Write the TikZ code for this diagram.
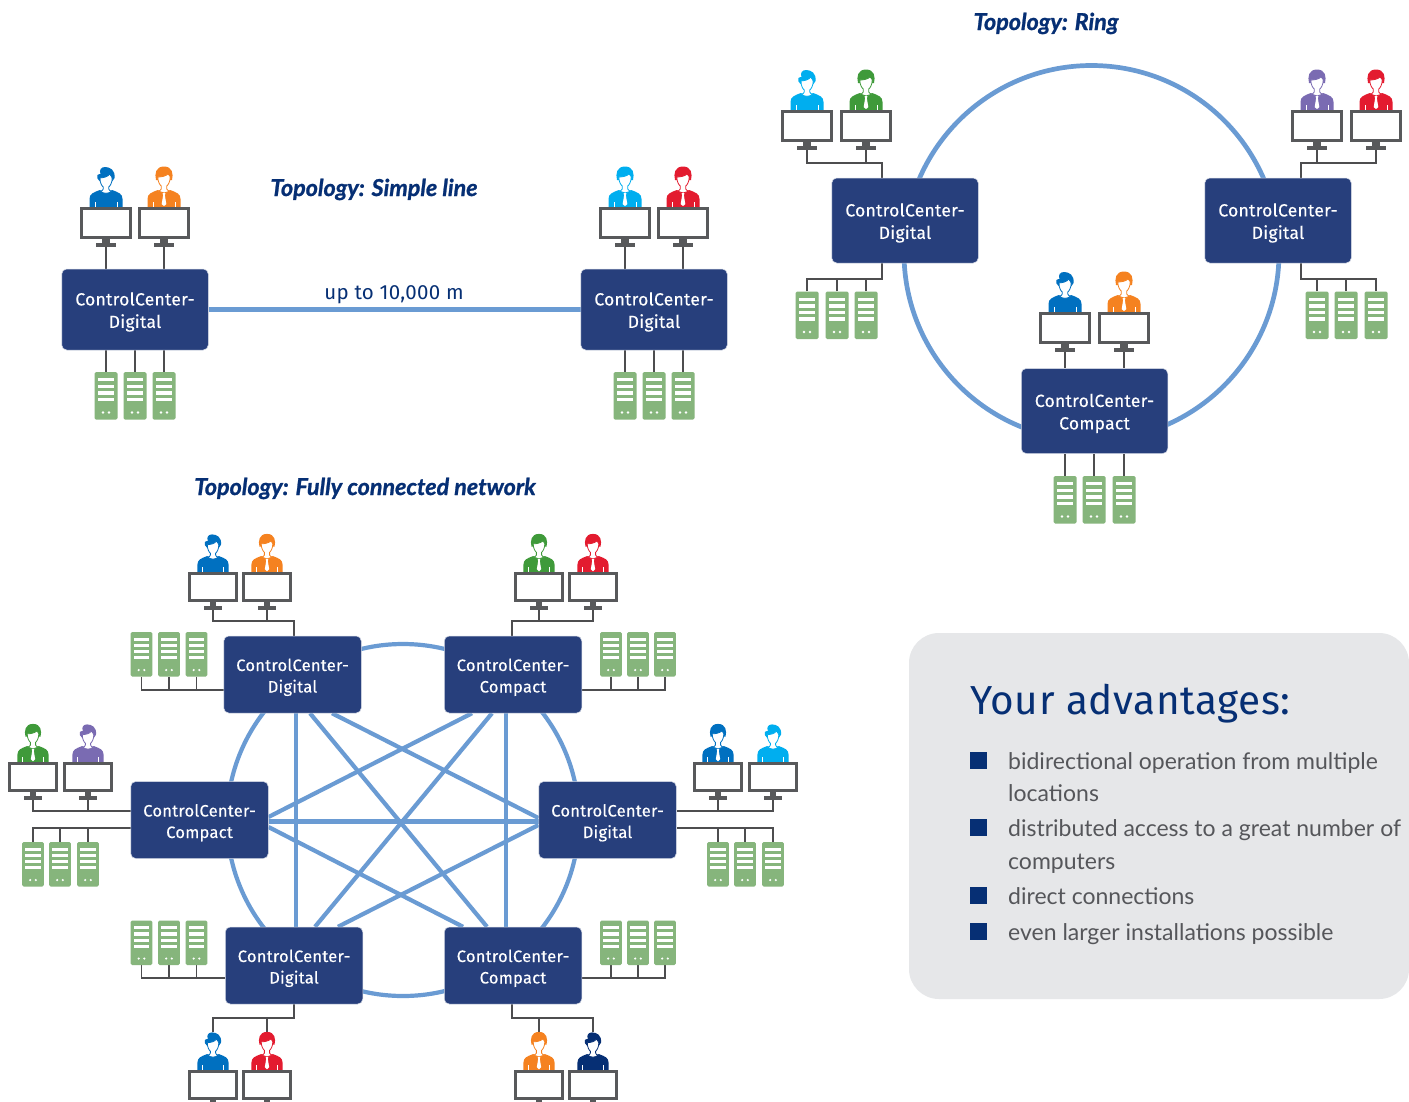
\documentclass[tikz,border=0pt]{standalone}
\usepackage{fontspec}
\setmainfont{Lato}
\newfontfamily\boxfont[LetterSpace=1.5,FakeBold=0.3]{Fira Sans}
\newfontfamily\headfont[LetterSpace=1.5]{Fira Sans}
\newfontfamily\titlefont[BoldItalicFeatures={FakeBold=1.0}]{Lato}
\usetikzlibrary{calc,backgrounds}
\definecolor{navyb}{HTML}{273F7C}
\definecolor{headc}{HTML}{062F74}
\definecolor{linkc}{HTML}{6A9BD3}
\definecolor{wirec}{HTML}{4D4D4F}
\definecolor{srvc}{HTML}{86B57C}
\definecolor{monc}{HTML}{58595B}
\definecolor{panelc}{HTML}{E6E7E9}
\definecolor{textc}{HTML}{55565A}
\definecolor{pblue}{HTML}{0070C0}
\definecolor{porange}{HTML}{F58220}
\definecolor{pcyan}{HTML}{00AEEF}
\definecolor{pred}{HTML}{E31B2F}
\definecolor{pgreen}{HTML}{3F9A3A}
\definecolor{ppurple}{HTML}{7A6BB2}
\definecolor{pnavy}{HTML}{062F74}
\newcommand{\ccl}[1]{\rule{0pt}{18pt}ControlCenter-\\#1}
\tikzset{
  x=1pt,y=-1pt,
  ccbox/.style={draw=white!80!navyb,line width=.5pt,fill=navyb,rounded corners=5pt,text=white,align=center,inner sep=0pt},
  ccbig/.style={ccbox,minimum width=146.5pt,font=\boxfont\fontsize{17.5}{22.5}\selectfont},
  ccsmall/.style={ccbox,minimum width=137.5pt,minimum height=77pt,font=\boxfont\fontsize{16.5}{21.5}\selectfont},
  link/.style={draw=linkc,line width=4.5pt},
  diag/.style={draw=linkc,line width=4.2pt},
  wire/.style={draw=wirec,line width=1.2pt},
  loop/.style={circle,draw=linkc,inner sep=0pt},
  toptitle/.style={anchor=base,text=headc,font=\titlefont\bfseries\itshape\fontsize{23.3}{26}\selectfont},
  bullet/.style={fill=headc,inner sep=0pt,minimum size=17pt},
  adv/.style={anchor=base west,text=textc,inner sep=0pt,font=\fontsize{23}{28}\selectfont},
}
% person drawings, origin on top middle of the monitor
\newcommand{\bodyshape}[1]{%
  \fill[#1] (-16.5,0) -- (-16.5,-8) .. controls (-16.5,-13) and (-13,-14.5) .. (-6,-17)
     .. controls (-4,-14) and (4,-14) .. (6,-17)
     .. controls (13,-14.5) and (16.5,-13) .. (16.5,-8) -- (16.5,0) -- cycle;
  \draw[white,line width=.6pt] (-11,0) -- (-11,-5) (11,0) -- (11,-5);
}
\newcommand{\personcasual}[1]{%
  \bodyshape{#1}
  \fill[#1] (-5.5,-33) .. controls (-9,-33) and (-9.5,-31) .. (-8.5,-28.5) -- (-6.5,-26)
     -- (6.5,-26) -- (8.5,-29)
     .. controls (9.5,-37) and (4,-40) .. (-1,-40) .. controls (-5,-40) and (-7,-37) .. (-5.5,-33) -- cycle;
  \draw[#1,fill=white,line width=.8pt] (-6,-29) .. controls (-2,-29.5) and (2,-30) .. (3.5,-33)
     .. controls (4.5,-31.5) and (5.8,-30.5) .. (6.2,-29)
     .. controls (6.2,-24) and (4,-21) .. (2.8,-20) -- (2.8,-18) .. controls (3,-16.5) and (4.5,-15.5) .. (6,-16)
     .. controls (3,-13) and (-3,-13) .. (-6,-16)
     .. controls (-4.5,-15.5) and (-3,-16.5) .. (-2.8,-18) -- (-2.8,-20) .. controls (-4,-21) and (-6.2,-24) .. (-6,-29) -- cycle;
}
\newcommand{\personsuit}[1]{%
  \bodyshape{#1}
  \fill[#1] (-8,-27) .. controls (-9.5,-33) and (-8.5,-40.5) .. (0,-40.5)
     .. controls (8.5,-40.5) and (9.5,-33) .. (8,-27) -- cycle;
  \draw[#1,fill=white,line width=.8pt] (-6.2,-30) .. controls (-2,-30) and (2,-31) .. (4,-33)
     .. controls (5,-32) and (6.2,-31) .. (6.2,-30)
     .. controls (6.2,-25) and (4,-22) .. (2.8,-21) -- (2.8,-18) .. controls (3,-16.5) and (5,-16) .. (6,-16)
     -- (0,-14) -- (-6,-16)
     .. controls (-5,-16) and (-3,-16.5) .. (-2.8,-18) -- (-2.8,-21) .. controls (-4,-22) and (-6.2,-25) .. (-6.2,-30) -- cycle;
  \fill[white] (-1.4,-14) -- (1.4,-14) -- (.9,-11.5) -- (2.3,-3) -- (0,-.8) -- (-2.3,-3) -- (-.9,-11.5) -- cycle;
}
% \station{name}{cx}{top}{scale}{colour}{casual|suit}
\newcommand{\station}[6]{%
  \begin{scope}[shift={(#2,#3)},scale=#4]
    \csname person#6\endcsname{#5}
    \fill[monc] (-3.7,31) rectangle (3.7,36.5);
    \fill[monc] (-10,36) rectangle (10,40);
    \coordinate (#1-base) at (0,40);
    \coordinate (#1-head) at (0,-40);
  \end{scope}
  \pgfmathsetlengthmacro{\mw}{49*#4*1pt}
  \pgfmathsetlengthmacro{\mh}{29*#4*1pt}
  \pgfmathsetmacro{\my}{16*#4}
  \node[draw=monc,line width=3pt,fill=white,inner sep=0pt,minimum width=\mw,minimum height=\mh]
    (#1) at ($(#2,#3)+(0,\my)$) {};
}
% \server{name}{cx}{top}{scale}
\newcommand{\server}[4]{%
  \pgfmathsetlengthmacro{\sw}{23*#4*1pt}
  \pgfmathsetlengthmacro{\sh}{47.5*#4*1pt}
  \pgfmathsetmacro{\sy}{23.75*#4}
  \node[fill=srvc,rounded corners=1.5pt,inner sep=0pt,minimum width=\sw,minimum height=\sh] (#1) at ($(#2,#3)+(0,\sy)$) {};
  \begin{scope}[shift={(#2,#3)},scale=#4]
    \foreach \q in {6,12.6,19.2,25.8}{\fill[white] (-8,\q) rectangle (8,\q+3.4);}
    \fill[white] (-3,40.5) circle (1.3) (3,40.5) circle (1.3);
  \end{scope}
}
\begin{document}
\begin{tikzpicture}
\useasboundingbox (0,0) rectangle (1409,1101);
\begin{scope}[on background layer]
\fill[white] (0,0) rectangle (1409,1101);
\end{scope}
\clip (0,0) rectangle (1409,1101);
% panel
\fill[panelc,rounded corners=30pt] (1409,633) -- (909,633) -- (909,999) -- (1409,999) -- cycle;
\node[anchor=base west,text=headc,inner sep=0pt,font=\headfont\fontsize{40.5}{44}\selectfont] (advhead) at (970,714) {Your advantages:};
\node[bullet] (b1) at (978.5,760.5) {};
\node[bullet] (b2) at (978.5,827.5) {};
\node[bullet] (b3) at (978.5,895.5) {};
\node[bullet] (b4) at (978.5,931.5) {};
\node[adv] (t1) at (1008,769) {bidirectional operation from multiple};
\node[adv] (t1b) at (1008,801) {locations};
\node[adv] (t2) at (1008,836) {distributed access to a great number of};
\node[adv] (t2b) at (1008,869) {computers};
\node[adv] (t3) at (1008,904) {direct connections};
\node[adv] (t4) at (1008,940) {even larger installations possible};
% titles
\node[toptitle] (ts) at (374,196) {Topology: Simple line};
\node[toptitle] (tr) at (1046,30) {Topology: Ring};
\node[toptitle] (tf) at (365,495) {Topology: Fully connected network};

% ===== Simple line =====
\node[ccbig,minimum height=81pt] (SL) at (135,309.5) {\ccl{Digital}};
\node[ccbig,minimum height=81pt] (SR) at (654,309.5) {\ccl{Digital}};
\station{sl1}{106}{207}{1}{pblue}{casual}
\station{sl2}{164}{207}{1}{porange}{suit}
\station{sr1}{625}{207}{1}{pcyan}{suit}
\station{sr2}{683}{207}{1}{pred}{suit}
\server{sa1}{106}{372}{1}\server{sa2}{135}{372}{1}\server{sa3}{164}{372}{1}
\server{sb1}{625}{372}{1}\server{sb2}{654}{372}{1}\server{sb3}{683}{372}{1}
\node[inner sep=0pt,anchor=base,font=\headfont\fontsize{20.5}{22}\selectfont,text=headc] (updist) at (394,299) {up to 10,000 m};
\begin{scope}[on background layer]
  \draw[link] (SL.east) -- (SR.west);
  \foreach \m in {sl1,sl2} \draw[wire] (\m-base) -- (\m-base |- SL.north);
  \foreach \m in {sr1,sr2} \draw[wire] (\m-base) -- (\m-base |- SR.north);
  \foreach \s in {sa1,sa2,sa3} \draw[wire] (\s) -- (\s |- SL.south);
  \foreach \s in {sb1,sb2,sb3} \draw[wire] (\s) -- (\s |- SR.south);
\end{scope}

% ===== Ring =====
\node[ccbig,minimum height=85pt] (RL) at (905,220.5) {\ccl{Digital}};
\node[ccbig,minimum height=85pt] (RR) at (1278,220.5) {\ccl{Digital}};
\node[ccbig,minimum height=85pt] (RB) at (1094.5,411) {\ccl{Compact}};
\station{rl1}{807}{110}{1}{pcyan}{casual}
\station{rl2}{866}{110}{1}{pgreen}{suit}
\station{rr1}{1317}{110}{1}{ppurple}{suit}
\station{rr2}{1376}{110}{1}{pred}{suit}
\station{rb1}{1065}{312}{1}{pblue}{casual}
\station{rb2}{1124}{312}{1}{porange}{suit}
\server{rs1}{807}{291.5}{1}\server{rs2}{837}{291.5}{1}\server{rs3}{866}{291.5}{1}
\server{rt1}{1317}{291.5}{1}\server{rt2}{1346}{291.5}{1}\server{rt3}{1376}{291.5}{1}
\server{ru1}{1065}{476}{1}\server{ru2}{1094}{476}{1}\server{ru3}{1124}{476}{1}
\coordinate (rlm) at (882,163);
\coordinate (rls) at (882,279);
\coordinate (rrm) at (1301,163);
\coordinate (rrs) at (1301,279);
\begin{scope}[on background layer]
  \node[loop,line width=4.7pt,minimum size=375pt] (ringloop) at (1091.5,253) {};
  \draw[wire] (rl1-base) |- (rlm) -- (rlm |- RL.north);
  \draw[wire] (rl2-base) -- (rl2-base |- rlm);
  \draw[wire] (rr2-base) |- (rrm) -- (rrm |- RR.north);
  \draw[wire] (rr1-base) -- (rr1-base |- rrm);
  \draw[wire] (rs1) |- (rls) -- (rls |- RL.south);
  \foreach \s in {rs2,rs3} \draw[wire] (\s) -- (\s |- rls);
  \draw[wire] (rt3) |- (rrs) -- (rrs |- RR.south);
  \foreach \s in {rt1,rt2} \draw[wire] (\s) -- (\s |- rrs);
  \foreach \m in {rb1,rb2} \draw[wire] (\m-base) -- (\m-base |- RB.north);
  \foreach \s in {ru1,ru2,ru3} \draw[wire] (\s) -- (\s |- RB.south);
\end{scope}

% ===== Fully connected =====
\node[ccsmall] (FA) at (292.5,674.5) {\ccl{Digital}};
\node[ccsmall] (FB) at (513,674.5) {\ccl{Compact}};
\node[ccsmall] (FC) at (199.5,820) {\ccl{Compact}};
\node[ccsmall] (FD) at (607.5,820) {\ccl{Digital}};
\node[ccsmall] (FE) at (294,965.5) {\ccl{Digital}};
\node[ccsmall] (FF) at (513,965.5) {\ccl{Compact}};
\station{a1}{213}{572}{.94}{pblue}{casual}
\station{a2}{267}{572}{.94}{porange}{suit}
\station{b1m}{539}{572}{.94}{pgreen}{suit}
\station{b2m}{593}{572}{.94}{pred}{suit}
\station{c1}{33}{762}{.94}{pgreen}{suit}
\station{c2}{88}{762}{.94}{ppurple}{casual}
\station{d1}{718}{762}{.94}{pblue}{suit}
\station{d2}{773}{762}{.94}{pcyan}{casual}
\station{e1}{213}{1070}{.94}{pblue}{casual}
\station{e2}{267}{1070}{.94}{pred}{suit}
\station{f1}{539}{1070}{.94}{porange}{suit}
\station{f2}{593}{1070}{.94}{pnavy}{casual}
\server{as1}{141.5}{632}{.94}\server{as2}{169}{632}{.94}\server{as3}{196.5}{632}{.94}
\server{bs1}{611}{632}{.94}\server{bs2}{638}{632}{.94}\server{bs3}{665}{632}{.94}
\server{cs1}{33}{842}{.94}\server{cs2}{60}{842}{.94}\server{cs3}{88}{842}{.94}
\server{ds1}{718}{842}{.94}\server{ds2}{745}{842}{.94}\server{ds3}{773}{842}{.94}
\server{es1}{141.5}{920.5}{.94}\server{es2}{169}{920.5}{.94}\server{es3}{196.5}{920.5}{.94}
\server{fs1}{611}{920.5}{.94}\server{fs2}{638}{920.5}{.94}\server{fs3}{665}{920.5}{.94}
\coordinate (jam) at (294,621);
\coordinate (jbm) at (512,621);
\coordinate (jem) at (294,1018);
\coordinate (jfm) at (512,1018);
\coordinate (jas) at (170,690);
\coordinate (jbs) at (640,690);
\coordinate (jes) at (170,978);
\coordinate (jfs) at (640,978);
\coordinate (jcm) at (60,811);
\coordinate (jcs) at (60,828);
\coordinate (jdm) at (745,811);
\coordinate (jds) at (745,828);
\begin{scope}[on background layer]
  \node[loop,line width=4.2pt,minimum size=352pt] (fullloop) at (403,820) {};
  \draw[link] ($(FA.south)+(3.5,0)$) -- ($(FE.north)+(2,0)$);
  \draw[link] ($(FB.south)+(-7,0)$) -- ($(FF.north)+(-7,0)$);
  \draw[link] ($(FC.east)+(0,1.5)$) -- ($(FD.west)+(0,1.5)$);
  \draw[diag] ($(FA.south)+(17.5,0)$) -- ($(FF.north)+(-26,0)$);
  \draw[diag] ($(FB.south)+(-21,0)$) -- ($(FE.north)+(21,0)$);
  \draw[diag] ($(FC.east)+(0,-3)$) -- ($(FB.south)+(-41,0)$);
  \draw[diag] ($(FC.east)+(0,7)$) -- ($(FF.north)+(-50,0)$);
  \draw[diag] ($(FD.west)+(0,-2)$) -- ($(FA.south)+(39.5,0)$);
  \draw[diag] ($(FD.west)+(0,5)$) -- ($(FE.north)+(44,0)$);
  % stations to boxes
  \draw[wire] (a1-base) |- (jam) -- (jam |- FA.north);
  \draw[wire] (a2-base) -- (a2-base |- jam);
  \draw[wire] (b2m-base) |- (jbm) -- (jbm |- FB.north);
  \draw[wire] (b1m-base) -- (b1m-base |- jbm);
  \draw[wire] (c1-base) |- (jcm) -- (jcm -| FC.west);
  \draw[wire] (c2-base) -- (c2-base |- jcm);
  \draw[wire] (d2-base) |- (jdm) -- (jdm -| FD.east);
  \draw[wire] (d1-base) -- (d1-base |- jdm);
  \draw[wire] (e1-head) |- (jem) -- (jem |- FE.south);
  \draw[wire] (e2-head) -- (e2-head |- jem);
  \draw[wire] (f2-head) |- (jfm) -- (jfm |- FF.south);
  \draw[wire] (f1-head) -- (f1-head |- jfm);
  % servers to boxes
  \draw[wire] (as1) |- (jas) -- (jas -| FA.west);
  \foreach \s in {as2,as3} \draw[wire] (\s) -- (\s |- jas);
  \draw[wire] (bs3) |- (jbs) -- (jbs -| FB.east);
  \foreach \s in {bs1,bs2} \draw[wire] (\s) -- (\s |- jbs);
  \draw[wire] (cs1) |- (jcs) -- (jcs -| FC.west);
  \foreach \s in {cs2,cs3} \draw[wire] (\s) -- (\s |- jcs);
  \draw[wire] (ds3) |- (jds) -- (jds -| FD.east);
  \foreach \s in {ds1,ds2} \draw[wire] (\s) -- (\s |- jds);
  \draw[wire] (es1) |- (jes) -- (jes -| FE.west);
  \foreach \s in {es2,es3} \draw[wire] (\s) -- (\s |- jes);
  \draw[wire] (fs3) |- (jfs) -- (jfs -| FF.east);
  \foreach \s in {fs1,fs2} \draw[wire] (\s) -- (\s |- jfs);
\end{scope}
\end{tikzpicture}
\end{document}
